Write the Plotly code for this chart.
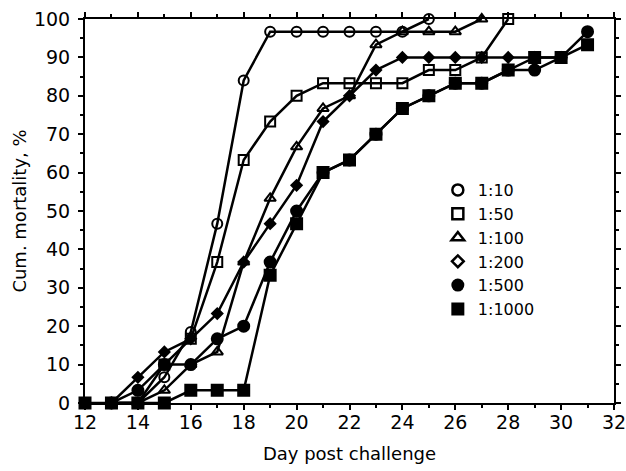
import plotly.graph_objects as go

# ---- data ----
days_1_10 = [13, 14, 15, 16, 17, 18, 19, 20, 21, 22, 23, 24, 25]
mort_1_10 = [0, 0, 6.7, 18.5, 46.7, 84, 96.7, 96.7, 96.7, 96.7, 96.7, 96.7, 100]

days_1_50 = [13, 14, 15, 16, 17, 18, 19, 20, 21, 22, 23, 24, 25, 26, 27, 28]
mort_1_50 = [0, 0, 10, 16.7, 36.7, 63.3, 73.3, 80, 83.3, 83.3, 83.3, 83.3, 86.7, 86.7, 90, 100]

days_1_100 = [13, 14, 15, 16, 17, 18, 19, 20, 21, 22, 23, 24, 25, 26, 27]
mort_1_100 = [0, 0, 3.3, 10, 13.3, 36.7, 53.3, 66.7, 76.7, 80, 93.3, 96.7, 96.7, 96.7, 100]

days_1_200 = [13, 14, 15, 16, 17, 18, 19, 20, 21, 22, 23, 24, 25, 26, 27, 28, 29, 30]
mort_1_200 = [0, 6.7, 13.3, 16.7, 23.3, 36.7, 46.7, 56.7, 73.3, 80, 86.7, 90, 90, 90, 90, 90, 90, 90]

days_1_500 = [13, 14, 15, 16, 17, 18, 19, 20, 21, 22, 23, 24, 25, 26, 27, 28, 29, 30, 31]
mort_1_500 = [0, 3.3, 10, 10, 16.7, 20, 36.7, 50, 60, 63.3, 70, 76.7, 80, 83.3, 83.3, 86.7, 86.7, 90, 96.7]

days_1_1000 = [12, 13, 14, 15, 16, 17, 18, 19, 20, 21, 22, 23, 24, 25, 26, 27, 28, 29, 30, 31]
mort_1_1000 = [0, 0, 0, 0, 3.3, 3.3, 3.3, 33.3, 46.7, 60, 63.3, 70, 76.7, 80, 83.3, 83.3, 86.7, 90, 90, 93.3]

x_ticks = [12, 14, 16, 18, 20, 22, 24, 26, 28, 30, 32]
y_ticks = [0, 10, 20, 30, 40, 50, 60, 70, 80, 90, 100]

series = [
    ("1:10", days_1_10, mort_1_10, "circle-open", 10, "circle-open", 11),
    ("1:50", days_1_50, mort_1_50, "square-open", 10, "square-open", 11),
    ("1:100", days_1_100, mort_1_100, "triangle-up-open", 10, "triangle-up-open", 11),
    ("1:200", days_1_200, mort_1_200, "diamond", 8, "diamond-open", 9),
    ("1:500", days_1_500, mort_1_500, "circle", 11, "circle", 13),
    ("1:1000", days_1_1000, mort_1_1000, "square", 11, "square", 13),
]

FONT = "DejaVu Sans"
fig = go.Figure()

for name, xs, ys, sym, size, lsym, lsize in series:
    fig.add_trace(go.Scatter(
        x=xs, y=ys, mode="lines+markers", name=name, showlegend=False,
        line=dict(color="black", width=2.5),
        marker=dict(symbol=sym, size=size, color="black",
                    line=dict(color="black", width=2)),
        cliponaxis=False,
    ))

for name, xs, ys, sym, size, lsym, lsize in series:
    fig.add_trace(go.Scatter(
        x=[None], y=[None], mode="markers", name=name, showlegend=True,
        marker=dict(symbol=lsym, size=lsize, color="black",
                    line=dict(color="black", width=2.5 if "open" in lsym else 0)),
    ))

axis_common = dict(
    showline=True, linecolor="black", linewidth=2, mirror="ticks",
    ticks="outside", ticklen=5, tickwidth=2, tickcolor="black",
    showgrid=False, zeroline=False, automargin=False,
    ticklabeloverflow="allow",
    tickfont=dict(family=FONT, size=19, color="black"),
)

fig.update_xaxes(
    range=[12, 32], tickvals=x_ticks, ticklabelstandoff=-4,
    minor=dict(dtick=1, ticks="outside", ticklen=3, tickwidth=2, tickcolor="black"),
    title=dict(text="Day post challenge", font=dict(family=FONT, size=18, color="black"), standoff=16),
    **axis_common,
)
fig.update_yaxes(
    range=[0, 100], tickvals=y_ticks, ticklabelstandoff=4,
    minor=dict(dtick=5, ticks="outside", ticklen=3, tickwidth=2, tickcolor="black"),
    title=dict(text="Cum. mortality, %", font=dict(family=FONT, size=18, color="black"), standoff=3),
    **axis_common,
)

fig.update_layout(
    width=626, height=471,
    margin=dict(l=85, r=12, t=19, b=68, autoexpand=False),
    paper_bgcolor="white", plot_bgcolor="white",
    showlegend=True,
    legend=dict(x=0.667, y=0.599, xanchor="left", yanchor="top",
                font=dict(family=FONT, size=16, color="black"),
                bgcolor="rgba(0,0,0,0)", tracegroupgap=0, itemwidth=30),
)

fig.write_html(
    "out.html",
    config={"displayModeBar": False},
    post_script="document.body.style.margin='0';document.body.style.padding='0';document.body.style.overflow='hidden';",
)
